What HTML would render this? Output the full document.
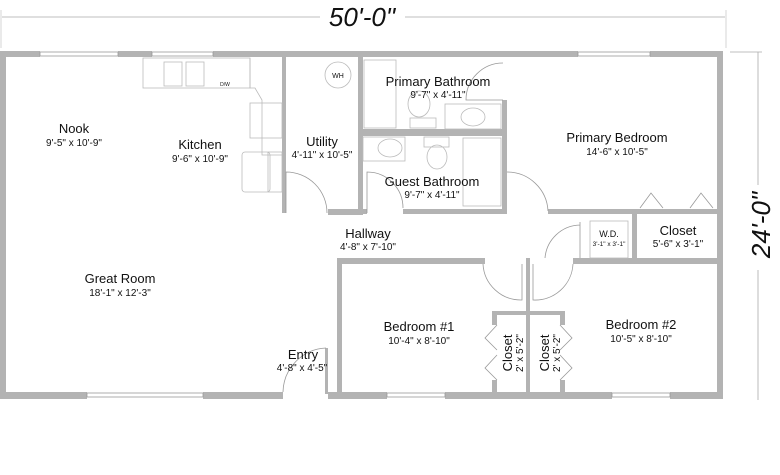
<!DOCTYPE html>
<html><head><meta charset="utf-8"><style>
html,body{margin:0;padding:0;background:#fff;}
svg{display:block;}
text{font-family:"Liberation Sans",sans-serif;fill:#111;}
.n{font-size:13px;}
.d{font-size:10px;}
.w{fill:#b3b3b3;}
.l{fill:none;stroke:#999;stroke-width:0.8;}
.f{fill:none;stroke:#bbb;stroke-width:0.8;}
</style></head><body>
<svg width="780" height="475" viewBox="0 0 780 475" xmlns="http://www.w3.org/2000/svg">
<!-- dimension lines -->
<line x1="2" y1="17" x2="320" y2="17" stroke="#aaa" stroke-width="0.8"/>
<line x1="405" y1="17" x2="725" y2="17" stroke="#aaa" stroke-width="0.8"/>
<line x1="726" y1="10" x2="726" y2="48" stroke="#ccc" stroke-width="0.8"/>
<line x1="1" y1="10" x2="1" y2="48" stroke="#ccc" stroke-width="0.8"/>
<text x="362" y="26" font-size="26" font-style="italic" text-anchor="middle" transform="scale(1,1)" style="font-family:'Liberation Sans Narrow','Liberation Sans',sans-serif">50'-0"</text>
<line x1="730" y1="52" x2="762" y2="52" stroke="#aaa" stroke-width="0.8"/>
<line x1="758" y1="52" x2="758" y2="185" stroke="#aaa" stroke-width="0.8"/>
<line x1="758" y1="270" x2="758" y2="400" stroke="#aaa" stroke-width="0.8"/>
<text x="770" y="225" font-size="26" font-style="italic" text-anchor="middle" transform="rotate(-90 770 225)" style="font-family:'Liberation Sans Narrow','Liberation Sans',sans-serif">24'-0"</text>

<!-- outer walls -->
<rect class="w" x="0" y="51" width="40" height="6"/>
<rect class="w" x="118" y="51" width="34" height="6"/>
<rect class="w" x="213" y="51" width="365" height="6"/>
<rect class="w" x="650" y="51" width="73" height="6"/>
<rect class="w" x="0" y="51" width="6" height="348"/>
<rect class="w" x="717" y="51" width="6" height="348"/>
<rect class="w" x="0" y="392" width="87" height="7"/>
<rect class="w" x="203" y="392" width="80" height="7"/>
<rect class="w" x="328" y="392" width="59" height="7"/>
<rect class="w" x="445" y="392" width="167" height="7"/>
<rect class="w" x="670" y="392" width="53" height="7"/>
<!-- windows -->
<g class="l">
<rect x="40" y="52" width="78" height="4"/><rect x="152" y="52" width="61" height="4"/><rect x="578" y="52" width="72" height="4"/>
<rect x="87" y="393" width="116" height="4"/><rect x="387" y="393" width="58" height="4"/><rect x="612" y="393" width="58" height="4"/>
</g>
<!-- interior walls -->
<rect class="w" x="282" y="57" width="4" height="156"/>
<rect class="w" x="358" y="57" width="5" height="158"/>
<rect class="w" x="328" y="209" width="35" height="6"/>
<rect class="w" x="363" y="129" width="144" height="7"/>
<rect class="w" x="502" y="100" width="5" height="114"/>
<rect class="w" x="363" y="209" width="4" height="5"/>
<rect class="w" x="403" y="209" width="104" height="5"/>
<rect class="w" x="548" y="209" width="170" height="5"/>
<rect class="w" x="632" y="209" width="5" height="54"/>
<rect class="w" x="340" y="258" width="145" height="6"/>
<rect class="w" x="573" y="258" width="145" height="6"/>
<rect class="w" x="337" y="258" width="5" height="140"/>
<rect class="w" x="526" y="258" width="4" height="140"/>
<rect class="w" x="492" y="311" width="73" height="4"/>
<rect class="w" x="492" y="311" width="5" height="14"/>
<rect class="w" x="560" y="311" width="5" height="14"/>
<rect class="w" x="492" y="380" width="5" height="14"/>
<rect class="w" x="560" y="380" width="5" height="14"/>
<rect class="w" x="325" y="348" width="3" height="46"/>

<!-- doors -->
<g class="l">
<path d="M286 213 V172 A41 41 0 0 1 327 213"/>
<path d="M367 213 V172 A36 36 0 0 1 403 208"/>
<path d="M503 100 H466 A37 37 0 0 1 503 63"/>
<path d="M507 172 A41 41 0 0 1 548 211"/>
<path d="M580 225 A36 36 0 0 0 545 258 M580 222 V258"/>
<path d="M522 264 V300 A38 38 0 0 1 483 264"/>
<path d="M533 264 V300 A38 38 0 0 0 573 264"/>
<path d="M326 348 A45 45 0 0 0 283 392"/>
<path d="M640 208 L651 193 L663 208 M690 208 L701 193 L713 208"/>
<path d="M497 325 L485 338 L497 350 M497 355 L485 368 L497 380"/>
<path d="M560 325 L572 338 L560 350 M560 355 L572 368 L560 380"/>
</g>
<!-- fixtures -->
<g class="f">
<rect x="143" y="58" width="107" height="30"/>
<rect x="164" y="62" width="18" height="24"/><rect x="186" y="62" width="18" height="24"/>
<path d="M250 58 V88 H255 L262 100 V155 H282"/>
<rect x="250" y="103" width="32" height="35"/>
<rect x="242" y="152" width="28" height="40" rx="3"/>
<rect x="268" y="152" width="14" height="40"/>
<circle cx="338" cy="75" r="13"/>
<rect x="364" y="60" width="32" height="68"/>
<ellipse cx="419" cy="104" rx="11" ry="13"/><rect x="410" y="118" width="26" height="10"/>
<rect x="445" y="104" width="56" height="25"/><ellipse cx="473" cy="117" rx="12" ry="9"/>
<rect x="363" y="137" width="42" height="24"/><ellipse cx="390" cy="148" rx="12" ry="9"/>
<rect x="424" y="137" width="25" height="10"/><ellipse cx="437" cy="157" rx="10" ry="12"/>
<rect x="463" y="138" width="38" height="68"/>
<rect x="590" y="221" width="38" height="37"/>
</g>
<text x="338" y="78" font-size="7" text-anchor="middle">WH</text>
<text x="225" y="86" font-size="5" text-anchor="middle">D/W</text>

<!-- labels -->
<g text-anchor="middle">
<text class="n" x="74" y="133">Nook</text><text class="d" x="74" y="146">9'-5" x 10'-9"</text>
<text class="n" x="200" y="149">Kitchen</text><text class="d" x="200" y="162">9'-6" x 10'-9"</text>
<text class="n" x="322" y="146">Utility</text><text class="d" x="322" y="158">4'-11" x 10'-5"</text>
<text class="n" x="438" y="86">Primary Bathroom</text><text class="d" x="438" y="98">9'-7" x 4'-11"</text>
<text class="n" x="617" y="142">Primary Bedroom</text><text class="d" x="617" y="155">14'-6" x 10'-5"</text>
<text class="n" x="432" y="186">Guest Bathroom</text><text class="d" x="432" y="198">9'-7" x 4'-11"</text>
<text class="n" x="368" y="238">Hallway</text><text class="d" x="368" y="250">4'-8" x 7'-10"</text>
<text x="609" y="237" font-size="9">W.D.</text><text x="609" y="246" font-size="6.5">3'-1" x 3'-1"</text>
<text class="n" x="678" y="235">Closet</text><text class="d" x="678" y="247">5'-6" x 3'-1"</text>
<text class="n" x="120" y="283">Great Room</text><text class="d" x="120" y="296">18'-1" x 12'-3"</text>
<text class="n" x="419" y="331">Bedroom #1</text><text class="d" x="419" y="344">10'-4" x 8'-10"</text>
<text class="n" x="641" y="329">Bedroom #2</text><text class="d" x="641" y="342">10'-5" x 8'-10"</text>
<text class="n" x="303" y="359">Entry</text><text class="d" x="302" y="371">4'-8" x 4'-5"</text>
</g>
<text class="n" transform="translate(512 353) rotate(-90)" text-anchor="middle">Closet</text>
<text class="d" transform="translate(523 353) rotate(-90)" text-anchor="middle">2' x 5'-2"</text>
<text class="n" transform="translate(549 353) rotate(-90)" text-anchor="middle">Closet</text>
<text class="d" transform="translate(560 353) rotate(-90)" text-anchor="middle">2' x 5'-2"</text>
</svg>
</body></html>
